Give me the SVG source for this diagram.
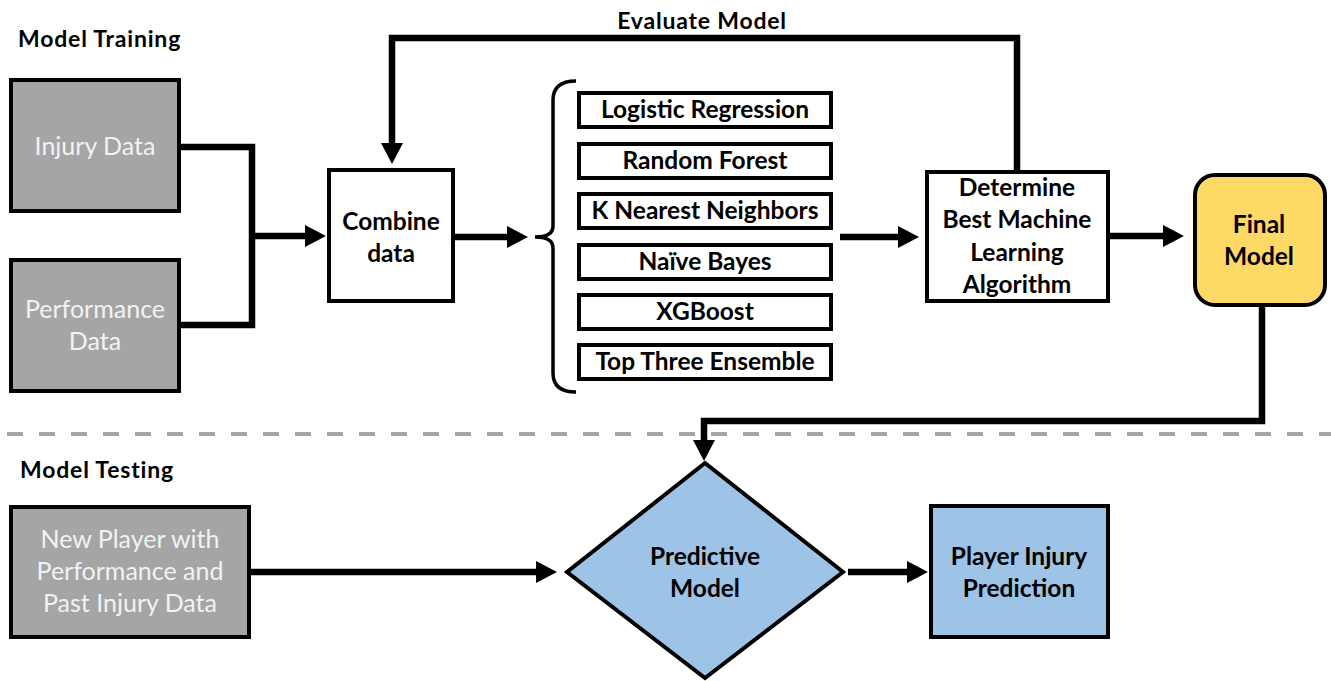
<svg xmlns="http://www.w3.org/2000/svg" width="1331" height="681" viewBox="0 0 1331 681">
  <style>
    .bg { fill: #ffffff; }
    .box { stroke: #000; stroke-width: 4; }
    .gray { fill: #a5a5a5; }
    .white { fill: #ffffff; }
    .blue { fill: #9dc3e6; }
    .yellow { fill: #ffd966; }
    .t { font-family: "Lato", "Liberation Sans", sans-serif; text-anchor: middle; }
    .dark { fill: #000; font-weight: 700; font-size: 24.5px; }
    .light { fill: #f2f2f2; font-weight: 400; font-size: 25px; }
    .title { font-family: "Lato", "Liberation Sans", sans-serif; font-weight: 700; font-size: 23px; letter-spacing: 0.8px; fill: #000; }
    .wire { fill: none; stroke: #000; stroke-width: 6.5; stroke-linejoin: miter; }
    .arrow { fill: none; stroke: #000; stroke-width: 6.5; marker-end: url(#head); }
    .divider { stroke: #a6a6a6; stroke-width: 4; stroke-dasharray: 16 16; }
    .brace { fill: none; stroke: #000; stroke-width: 3.5; }
  </style>
  <defs>
    <marker id="head" markerUnits="userSpaceOnUse" markerWidth="22" markerHeight="24" refX="10" refY="12" orient="auto">
      <path d="M0,1 L21,12 L0,23 z" fill="#000"/>
    </marker>
  </defs>

  <rect class="bg" x="0" y="0" width="1331" height="681"/>

  <!-- section divider -->
  <line class="divider" x1="7" y1="434" x2="1331" y2="434"/>

  <!-- section titles -->
  <text class="title" x="18" y="47">Model Training</text>
  <text class="title" x="20" y="478">Model Testing</text>
  <text class="title" x="702" y="29" text-anchor="middle">Evaluate Model</text>

  <!-- connectors -->
  <g id="connectors">
    <path class="wire" d="M181,147 L252,147 L252,325 L181,325"/>
    <path class="arrow" d="M252,236 L315,236"/>
    <path class="arrow" d="M455,237 L517,237"/>
    <path class="brace" d="M576,81 Q553,81 553,100 L553,226 Q553,237 535,237 Q553,237 553,248 L553,373 Q553,392 576,392"/>
    <path class="arrow" d="M840,237 L908,237"/>
    <path class="arrow" d="M1110,236 L1173,236"/>
    <path class="arrow" d="M1017,170 L1017,38 L392,38 L392,153"/>
    <path class="arrow" d="M1262,307 L1262,421 L704,421 L704,450"/>
    <path class="arrow" d="M251,572 L546,572"/>
    <path class="arrow" d="M848,572 L917,572"/>
  </g>

  <!-- training inputs -->
  <g id="injury-data">
    <rect class="box gray" x="11" y="80" width="168" height="131"/>
    <text class="t light" x="95" y="155">Injury Data</text>
  </g>
  <g id="performance-data">
    <rect class="box gray" x="11" y="260" width="168" height="131"/>
    <text class="t light" x="95" y="318">Performance</text>
    <text class="t light" x="95" y="350">Data</text>
  </g>

  <g id="combine-data">
    <rect class="box white" x="329" y="170" width="124" height="131"/>
    <text class="t dark" x="391" y="230">Combine</text>
    <text class="t dark" x="391" y="262">data</text>
  </g>

  <!-- candidate algorithms -->
  <g id="logistic-regression">
    <rect class="box white" x="579" y="93" width="252" height="34"/>
    <text class="t dark" x="705" y="118">Logistic Regression</text>
  </g>
  <g id="random-forest">
    <rect class="box white" x="579" y="144" width="252" height="34"/>
    <text class="t dark" x="705" y="169">Random Forest</text>
  </g>
  <g id="knn">
    <rect class="box white" x="579" y="194" width="252" height="34"/>
    <text class="t dark" x="705" y="219">K Nearest Neighbors</text>
  </g>
  <g id="naive-bayes">
    <rect class="box white" x="579" y="245" width="252" height="34"/>
    <text class="t dark" x="705" y="270">Naïve Bayes</text>
  </g>
  <g id="xgboost">
    <rect class="box white" x="579" y="295" width="252" height="34"/>
    <text class="t dark" x="705" y="320">XGBoost</text>
  </g>
  <g id="ensemble">
    <rect class="box white" x="579" y="345" width="252" height="34"/>
    <text class="t dark" x="705" y="370">Top Three Ensemble</text>
  </g>

  <g id="determine-best">
    <rect class="box white" x="927" y="172" width="181" height="129"/>
    <text class="t dark" x="1017" y="196">Determine</text>
    <text class="t dark" x="1017" y="228">Best Machine</text>
    <text class="t dark" x="1017" y="261">Learning</text>
    <text class="t dark" x="1017" y="293">Algorithm</text>
  </g>

  <g id="final-model">
    <rect class="box yellow" x="1195" y="175" width="130" height="130" rx="20" ry="20"/>
    <text class="t dark" x="1259" y="233">Final</text>
    <text class="t dark" x="1259" y="265">Model</text>
  </g>

  <!-- testing stage -->
  <g id="new-player">
    <rect class="box gray" x="11" y="507" width="238" height="130"/>
    <text class="t light" x="130" y="548">New Player with</text>
    <text class="t light" x="130" y="580">Performance and</text>
    <text class="t light" x="130" y="612">Past Injury Data</text>
  </g>

  <g id="predictive-model">
    <polygon class="box blue" points="705,463 843,572 705,678 567,572"/>
    <text class="t dark" x="705" y="565">Predictive</text>
    <text class="t dark" x="705" y="597">Model</text>
  </g>

  <g id="injury-prediction">
    <rect class="box blue" x="931" y="506" width="177" height="131"/>
    <text class="t dark" x="1019" y="565">Player Injury</text>
    <text class="t dark" x="1019" y="597">Prediction</text>
  </g>
</svg>
